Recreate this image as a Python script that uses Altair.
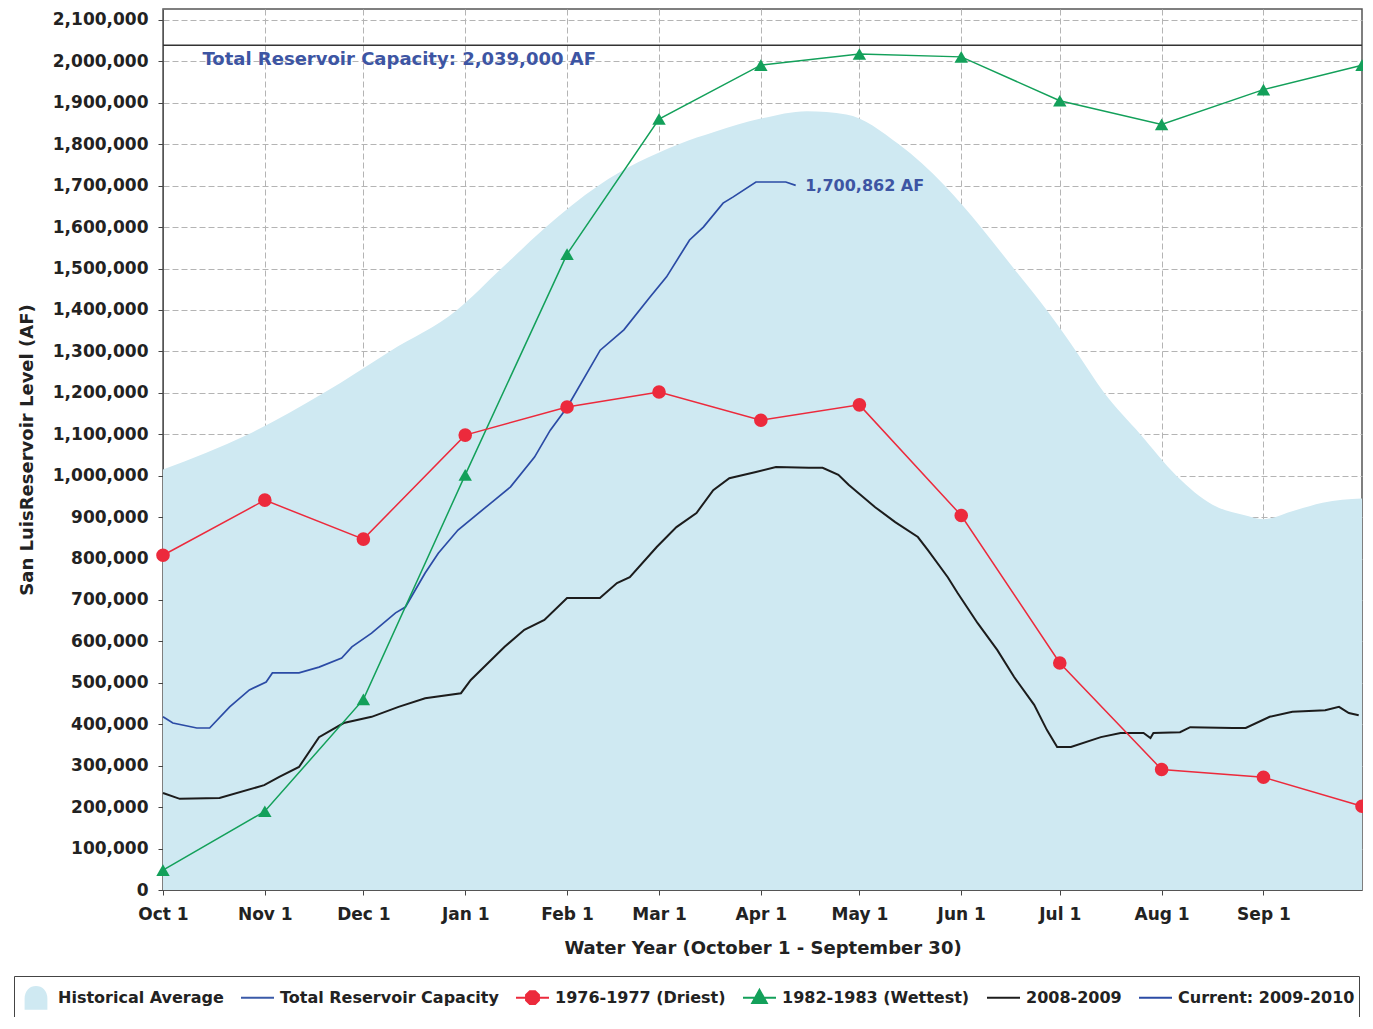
import json
import altair as alt
import pandas as pd

# ---------------- data ----------------
month_days = [0, 31, 61, 92, 123, 151, 182, 212, 243, 273, 304, 335]
month_labels = ["Oct 1", "Nov 1", "Dec 1", "Jan 1", "Feb 1", "Mar 1",
                "Apr 1", "May 1", "Jun 1", "Jul 1", "Aug 1", "Sep 1"]
year_days = 365
y_ticks = list(range(0, 2100001, 100000))
y_top = 2126550

series_names = ["Historical Average", "Total Reservoir Capacity", "1976-1977 (Driest)",
                "1982-1983 (Wettest)", "2008-2009", "Current: 2009-2010"]
series_colors = ["#cfe9f2", "#3a5aa8", "#ec2a3c", "#13a05a", "#1c1c1c", "#2b4ba5"]

hist_days = [0, 26, 49, 69, 89.5, 103, 116.5, 132.5, 157, 168, 182, 196, 208,
             224, 238, 249, 259, 269, 278, 286.5, 297.5, 308.5, 319.5, 329, 335, 344, 353, 365]
hist_vals = [1015000, 1100000, 1200000, 1300000, 1400000, 1500000, 1600000, 1700000,
             1800000, 1830000, 1862000, 1880000, 1872000, 1800000, 1700000, 1600000,
             1500000, 1400000, 1300000, 1200000, 1100000, 1000000, 930000, 905000,
             895000, 915000, 935000, 945000]

capacity_af = 2039000

driest_days = [0, 31, 61, 92, 123, 151, 182, 212, 243, 273, 304, 335, 365]
driest_vals = [808000, 941000, 847000, 1098000, 1166000, 1202000, 1134000, 1171000,
               904000, 548000, 291000, 272000, 202000]

wettest_days = [0, 31, 61, 92, 123, 151, 182, 212, 243, 273, 304, 335, 365]
wettest_vals = [48000, 190000, 460000, 1002000, 1535000, 1861000, 1991000, 2018000,
                2011000, 1905000, 1848000, 1932000, 1991000]

wy0809_days = [0, 5.1, 17.2, 30.8, 35.4, 41.4, 47.5, 55, 63.5, 71.7, 79.8, 90.7, 93.7,
               104, 110, 116.1, 123, 133, 138.2, 142.1, 150.3, 156.3, 162.4, 167.5,
               172.4, 180.5, 186.6, 196.6, 200.8, 205.6, 208.7, 216.8, 222.9, 229.8,
               232.8, 238.9, 241.9, 248, 254, 259.1, 265.2, 269.1, 272.2, 276.4, 285.5,
               291.5, 298.5, 300.6, 301.5, 309.6, 312.7, 325.7, 329.6, 336.9, 343.8,
               353.8, 358, 361, 364]
wy0809_vals = [234000, 220000, 222000, 253000, 273000, 297000, 369000, 403000, 418000,
               442000, 463000, 475000, 507000, 587000, 628000, 652000, 705000, 705000,
               741000, 755000, 828000, 876000, 910000, 965000, 994000, 1009000, 1021000,
               1019000, 1019000, 1002000, 978000, 924000, 888000, 852000, 821000, 755000,
               717000, 644000, 579000, 514000, 447000, 386000, 345000, 345000, 369000,
               379000, 379000, 367000, 379000, 381000, 393000, 391000, 391000, 418000,
               430000, 434000, 442000, 427000, 422000]

current_days = [0, 3, 10.3, 14.2, 20.3, 26.3, 31.4, 33.3, 41.4, 47.5, 54.4, 57.5, 63.5,
                70.8, 73.8, 79.8, 83.8, 89.8, 99.8, 105.8, 113.1, 117.9, 123.1, 133.1,
                140.3, 148.2, 153.3, 160.3, 164.5, 170.5, 173.6, 180.5, 189.6, 192.6]
current_vals = [418000, 403000, 391000, 391000, 442000, 483000, 502000, 524000, 524000,
                538000, 560000, 587000, 620000, 669000, 683000, 765000, 813000, 869000,
                934000, 973000, 1045000, 1110000, 1166000, 1303000, 1352000, 1431000,
                1480000, 1569000, 1600000, 1658000, 1673000, 1709000, 1709000, 1700862]

capacity_label = "Total Reservoir Capacity: 2,039,000 AF"
capacity_label_day = 12
capacity_label_af = 2003000
current_label = "1,700,862 AF"
current_label_day = 195.5
current_label_af = 1700000

# ---------------- frames ----------------
hist_df = pd.DataFrame({"day": hist_days, "af": hist_vals, "series": series_names[0]})
cap_df = pd.DataFrame({"af": [capacity_af]})
dry_df = pd.DataFrame({"day": driest_days, "af": driest_vals, "series": series_names[2]})
wet_df = pd.DataFrame({"day": wettest_days, "af": wettest_vals, "series": series_names[3]})
wy_df = pd.DataFrame({"day": wy0809_days, "af": wy0809_vals, "series": series_names[4]})
cur_df = pd.DataFrame({"day": current_days, "af": current_vals, "series": series_names[5]})
cap_lbl_df = pd.DataFrame({"day": [capacity_label_day], "af": [capacity_label_af], "t": [capacity_label]})
cur_lbl_df = pd.DataFrame({"day": [current_label_day], "af": [current_label_af], "t": [current_label]})

FONT = "DejaVu Sans"

label_expr = "{labels}[indexof({days}, datum.value)]".format(
    labels=json.dumps(month_labels), days=json.dumps(month_days))

x_axis = alt.Axis(values=month_days, labelExpr=label_expr,
                  title="Water Year (October 1 - September 30)",
                  labelFontSize=17, titleFontSize=18, tickSize=5, labelPadding=11,
                  titlePadding=17, labelFlush=False, labelOverlap=False, grid=True)
y_axis = alt.Axis(values=y_ticks, format=",d", title="San LuisReservoir Level (AF)",
                  labelFontSize=17, titleFontSize=18, tickSize=5, labelPadding=10,
                  titlePadding=16, labelOverlap=False, grid=True)

x_enc = alt.X("day:Q", scale=alt.Scale(domain=[0, year_days], nice=False, zero=False), axis=x_axis)
y_enc = alt.Y("af:Q", scale=alt.Scale(domain=[0, y_top], nice=False), axis=y_axis)

# legend glyphs (unit box -1..1); equal vertical extent so all labels line up
_pad = "M0,-0.68L0,-0.68M0,0.68L0,0.68"
legend_paths = [
    "M-0.6,0.66L-0.6,0.05C-0.6,-0.42 -0.3,-0.66 0.03,-0.66C0.36,-0.66 0.66,-0.42 0.66,0.05L0.66,0.66Z",
    _pad + "M-1,0L1,0",
    _pad + "M-1,0L1,0M0.39,0.16L0.16,0.39L-0.16,0.39L-0.39,0.16L-0.39,-0.16L-0.16,-0.39L0.16,-0.39L0.39,-0.16Z",
    _pad + "M-1,0L1,0M0,-0.47L0.44,0.32L-0.44,0.32Z",
    _pad + "M-1,0L1,0",
    _pad + "M-1,0L1,0",
]

legend = alt.Legend(
    title=None, orient="none", legendX=-149, legendY=967, direction="horizontal",
    columns=6, symbolSize=1089, symbolStrokeWidth=2, symbolOpacity=1,
    labelFont=FONT, labelFontSize=16, labelFontWeight="bold", labelLimit=400,
    labelColor="#222222", labelOffset=5, columnPadding=13, padding=4,
    strokeColor="#444444", fillColor="white")

color_scale = alt.Scale(domain=series_names, range=series_colors)
color_enc = alt.Color("series:N", scale=color_scale, legend=None)

# legend carrier (first layer): no visible marks, only the merged legend
legend_layer = alt.Chart(hist_df).transform_filter("false").mark_point(
    filled=True, opacity=1).encode(
    x=x_enc, y=y_enc,
    color=alt.Color("series:N", scale=color_scale, legend=legend),
    stroke=alt.Stroke("series:N", scale=alt.Scale(domain=series_names, range=series_colors), legend=legend),
    shape=alt.Shape("series:N", scale=alt.Scale(domain=series_names, range=legend_paths), legend=legend))

area = alt.Chart(hist_df).mark_area(interpolate="monotone", opacity=1).encode(
    x=x_enc, y=y_enc, color=color_enc)

cap_rule = alt.Chart(cap_df).mark_rule(color="#333333", strokeWidth=1.5).encode(y=y_enc)

wy_line = alt.Chart(wy_df).mark_line(strokeWidth=2).encode(x=x_enc, y=y_enc, color=color_enc)
cur_line = alt.Chart(cur_df).mark_line(strokeWidth=1.7).encode(x=x_enc, y=y_enc, color=color_enc)
wet_line = alt.Chart(wet_df).mark_line(strokeWidth=1.5).encode(x=x_enc, y=y_enc, color=color_enc)
wet_pts = alt.Chart(wet_df).mark_point(filled=True, shape="triangle-up", size=180, opacity=1).encode(
    x=x_enc, y=y_enc, color=color_enc)
dry_line = alt.Chart(dry_df).mark_line(strokeWidth=1.5).encode(x=x_enc, y=y_enc, color=color_enc)
dry_pts = alt.Chart(dry_df).mark_point(filled=True, shape="circle", size=185, opacity=1).encode(
    x=x_enc, y=y_enc, color=color_enc)

cap_text = alt.Chart(cap_lbl_df).mark_text(
    align="left", baseline="middle", font=FONT, fontSize=18, fontWeight="bold",
    color="#3d55a3").encode(x=x_enc, y=y_enc, text="t:N")
cur_text = alt.Chart(cur_lbl_df).mark_text(
    align="left", baseline="middle", font=FONT, fontSize=16, fontWeight="bold",
    color="#3d55a3").encode(x=x_enc, y=y_enc, text="t:N")

chart = alt.layer(legend_layer, area, cap_rule, wy_line, cur_line, wet_line, wet_pts,
                  dry_line, dry_pts, cap_text, cur_text).properties(
    width=1199, height=881,
    autosize=alt.AutoSizeParams(type="none"),
    padding={"left": 155, "top": 1, "right": 1, "bottom": 127},
    background="white",
).configure_view(stroke="#555555", strokeWidth=1.5).configure_axis(
    labelFont=FONT, titleFont=FONT, labelFontWeight="bold", titleFontWeight="bold",
    labelColor="#222222", titleColor="#222222", gridColor="#b4b4b4", gridDash=[6, 3],
    gridWidth=1, tickColor="#444444", domainColor="#555555")

chart.save("out.html", embed_options={"renderer": "svg", "actions": False})
